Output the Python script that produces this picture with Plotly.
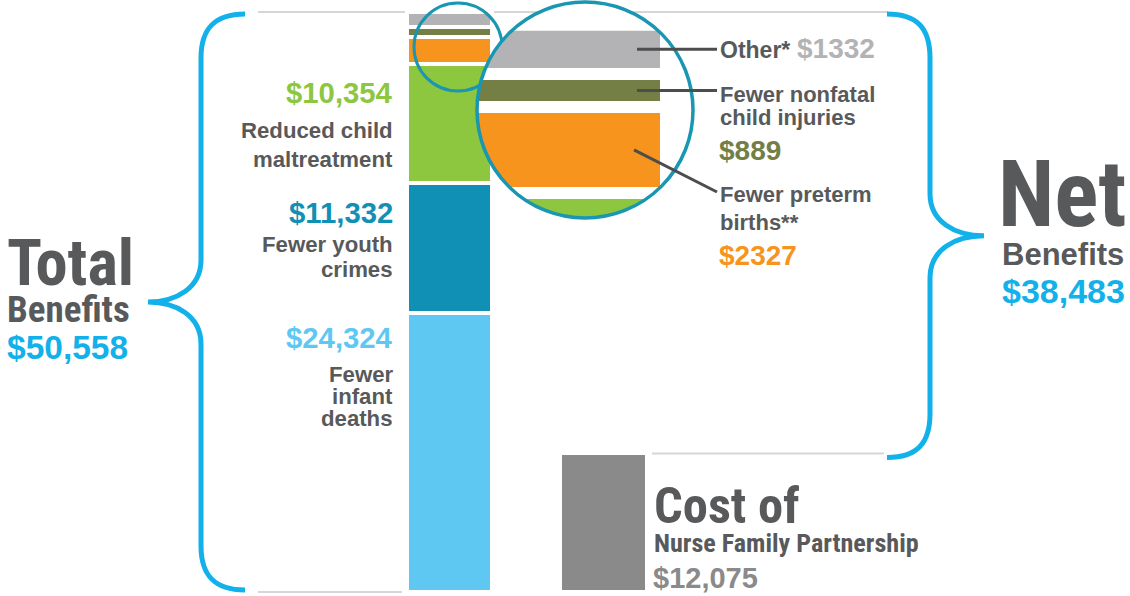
import numpy as np
import plotly.graph_objects as go

# ---------------- data ----------------
categories = ["Fewer infant deaths", "Fewer youth crimes", "Reduced child maltreatment",
              "Fewer preterm births**", "Fewer nonfatal child injuries", "Other*"]
values = [24324, 11332, 10354, 2327, 889, 1332]
label_lines = [["Fewer", "infant", "deaths"],
               ["Fewer youth", "crimes"],
               ["Reduced child", "maltreatment"],
               ["Fewer preterm", "births**"],
               ["Fewer nonfatal", "child injuries"],
               ["Other*"]]
cost_title = ["Cost of", "Nurse Family Partnership"]
cost_value = 12075

total_value = sum(values)
net_value = total_value - cost_value
cum = np.concatenate([[0], np.cumsum(values)])

# ---------------- styles ----------------
seg_colors = ["#5ec8f2", "#1190b5", "#8dc63f", "#f7941d", "#737f45", "#b3b3b5"]
cost_color = "#8a8a8a"
brace_color = "#13b1ea"
circle_color = "#1996b1"
text_dark = "#58595b"
NARROW = "Roboto Condensed, Open Sans Condensed, DejaVu Sans Condensed, sans-serif"
REG = "Liberation Sans, Arial, sans-serif"

W, H = 1130, 596
Y0_PX, YT_PX = 592, 12
S1 = (Y0_PX - YT_PX) / total_value


def py1(v):
    return Y0_PX - v * S1


def v1(py):
    return (Y0_PX - py) / S1


BAR_X, BAR_W = 449.5, 85
COST_X, COST_W = 603.5, 87
GAP = 4

# magnified inset
S2 = 0.037
ANCHOR_VAL = cum[3]
ANCHOR_PY = 193
GAP2 = 12
CX, CY, R = 585, 110, 108
XL, XR = 400, 660
X2_LO, X2_HI = 400, 730
Y2_TOP, Y2_BOT = 0, 224


def py2(v):
    return ANCHOR_PY - (v - ANCHOR_VAL) * S2


def v2(py):
    return ANCHOR_VAL + (ANCHOR_PY - np.asarray(py)) / S2


fig = go.Figure()

# main stacked bar
for name, val, col in zip(categories, values, seg_colors):
    fig.add_trace(go.Bar(x=[BAR_X], y=[val], width=[BAR_W], name=name,
                         marker=dict(color=col, line=dict(color="white", width=GAP)),
                         showlegend=False, hoverinfo="name+y"))
# cost bar
fig.add_trace(go.Bar(x=[COST_X], y=[cost_value], width=[COST_W], name=" ".join(cost_title),
                     marker=dict(color=cost_color, line=dict(color="white", width=GAP)),
                     showlegend=False, hoverinfo="name+y"))

# magnified segments, clipped to the circle
for i in range(2, 6):
    lo, hi = cum[i], cum[i + 1]
    top = max(py2(hi) + GAP2 / 2, CY - R + 0.01)
    bot = min(py2(lo) - GAP2 / 2, CY + R - 0.01)
    if top >= bot:
        continue
    ys = np.linspace(top, bot, 120)
    half = np.sqrt(R ** 2 - (ys - CY) ** 2)
    right = np.minimum(XR, CX + half)
    left = np.maximum(XL, CX - half)
    xs = np.concatenate([right, left[::-1]])
    yy = np.concatenate([ys, ys[::-1]])
    fig.add_trace(go.Scatter(x=xs, y=v2(yy), xaxis="x2", yaxis="y2", mode="lines",
                             fill="toself", fillcolor=seg_colors[i],
                             line=dict(width=0, color=seg_colors[i]),
                             hoverinfo="skip", showlegend=False))


def brace_path(x_end, x_stem, x_tip, top_py, bot_py):
    d = 1 if x_tip > x_stem else -1
    mid = (top_py + bot_py) / 2
    pts = [
        ("M", [(x_end, top_py)]),
        ("C", [(x_end + d * 30, top_py), (x_stem, top_py + 14), (x_stem, top_py + 44)]),
        ("L", [(x_stem, mid - 42)]),
        ("C", [(x_stem, mid - 14), (x_stem + d * 25, mid), (x_tip, mid)]),
        ("C", [(x_stem + d * 25, mid), (x_stem, mid + 14), (x_stem, mid + 42)]),
        ("L", [(x_stem, bot_py - 44)]),
        ("C", [(x_stem, bot_py - 14), (x_end + d * 30, bot_py), (x_end, bot_py)]),
    ]
    s = ""
    for cmd, pp in pts:
        s += cmd + " " + " ".join(f"{x:.2f},{v1(y):.2f}" for x, y in pp) + " "
    return s.strip()


def circ(x0, x1, pya, pyb, **kw):
    return dict(type="circle", xref="x2", yref="y2", x0=x0, x1=x1,
                y0=float(v2(pyb)), y1=float(v2(pya)), **kw)


def paper_line(xa, pya, xb, pyb, **kw):
    return dict(type="line", xref="paper", yref="paper", x0=xa / W, x1=xb / W,
                y0=1 - pya / H, y1=1 - pyb / H, **kw)


shapes = [
    dict(type="line", xref="x", yref="y", x0=258, x1=888, y0=total_value, y1=total_value,
         line=dict(color="#d6d6d6", width=2), layer="below"),
    dict(type="line", xref="x", yref="y", x0=258, x1=402, y0=0, y1=0,
         line=dict(color="#d6d6d6", width=2), layer="below"),
    dict(type="line", xref="x", yref="y", x0=652, x1=884, y0=cost_value, y1=cost_value,
         line=dict(color="#d6d6d6", width=2), layer="below"),
    dict(type="path", xref="x", yref="y",
         path=brace_path(245, 201, 148, py1(total_value) + 2, py1(0) - 2),
         line=dict(color=brace_color, width=5), layer="above"),
    dict(type="path", xref="x", yref="y",
         path=brace_path(887, 930, 984, py1(total_value) + 2, py1(cost_value) + 4),
         line=dict(color=brace_color, width=5), layer="above"),
    circ(414, 502, 3, 91, line=dict(color=circle_color, width=3), layer="below"),
    circ(CX - R, CX + R, CY - R, CY + R, fillcolor="white", line=dict(width=0), layer="below"),
    circ(CX - R, CX + R, CY - R, CY + R, fillcolor="rgba(0,0,0,0)",
         line=dict(color=circle_color, width=3.5), layer="above"),
]
mid_other = py2((cum[5] + cum[6]) / 2)
mid_inj = py2((cum[4] + cum[5]) / 2)
mid_pre = py2((cum[3] + cum[4]) / 2)
lead = dict(color="#4d4d4d", width=3)
shapes += [
    paper_line(637, mid_other, 717, mid_other, line=lead, layer="above"),
    paper_line(637, mid_inj, 717, mid_inj, line=lead, layer="above"),
    paper_line(634, mid_pre, 717, 192, line=lead, layer="above"),
]

annotations = []


def ann(text, x, base, size, color, family=REG, xanchor="left"):
    k = 0.3415 if family == NARROW else 0.3465
    cy = base - k * size
    annotations.append(dict(text=f"<b>{text}</b>", x=x / W, y=1 - cy / H, xref="paper", yref="paper",
                            xanchor=xanchor, yanchor="middle", showarrow=False, borderpad=0,
                            font=dict(family=family, size=size, color=color)))


def money(v, comma=True):
    return f"${v:,}" if comma else f"${v}"


# left segment labels
left_pos = {2: (103, [138, 167]), 1: (223, [252, 277]), 0: (348, [382, 404, 426])}
for i, (vb, lbs) in left_pos.items():
    ann(money(values[i]), 394, vb, 29.3, seg_colors[i], xanchor="right")
    for txt, b in zip(label_lines[i], lbs):
        ann(txt, 394, b, 22.2, text_dark, xanchor="right")

# right segment labels
ann(label_lines[5][0], 719, 58, 23, text_dark)
ann(money(values[5], False), 796, 58, 28, seg_colors[5])
right_pos = {4: ([102, 125], 160), 3: ([202, 230], 265)}
for i, (lbs, vb) in right_pos.items():
    for txt, b in zip(label_lines[i], lbs):
        ann(txt, 719, b, 22, text_dark)
    ann(money(values[i], False), 718, vb, 28, seg_colors[i])

# totals
ann("Total", 6, 285, 64.5, text_dark, NARROW)
ann("Benefits", 6, 322, 37, text_dark, NARROW)
ann(money(total_value), 6, 359, 33.5, brace_color)
ann("Net", 997, 226, 92, text_dark, NARROW)
ann("Benefits", 1001, 265, 31, text_dark)
ann(money(net_value), 1001, 303, 34, brace_color)
ann(cost_title[0], 653, 523, 50.5, text_dark, NARROW)
ann(cost_title[1], 653, 552, 26.1, text_dark, NARROW)
ann(money(cost_value), 652, 588, 29, cost_color)

fig.update_layout(
    width=W, height=H, autosize=False,
    margin=dict(l=0, r=0, t=0, b=0, pad=0),
    paper_bgcolor="white", plot_bgcolor="rgba(0,0,0,0)",
    barmode="stack", bargap=0, showlegend=False,
    xaxis=dict(range=[0, W], domain=[0, 1], visible=False, fixedrange=True),
    yaxis=dict(range=[v1(H), v1(0)], domain=[0, 1], visible=False, fixedrange=True),
    xaxis2=dict(range=[X2_LO, X2_HI], domain=[X2_LO / W, X2_HI / W], anchor="y2",
                visible=False, fixedrange=True),
    yaxis2=dict(range=[float(v2(Y2_BOT)), float(v2(Y2_TOP))],
                domain=[1 - Y2_BOT / H, 1 - Y2_TOP / H], anchor="x2",
                visible=False, fixedrange=True),
    shapes=shapes, annotations=annotations,
)

fig.write_html("out.html", config={"displayModeBar": False},
               post_script="document.body.style.margin='0';document.body.style.padding='0';")
